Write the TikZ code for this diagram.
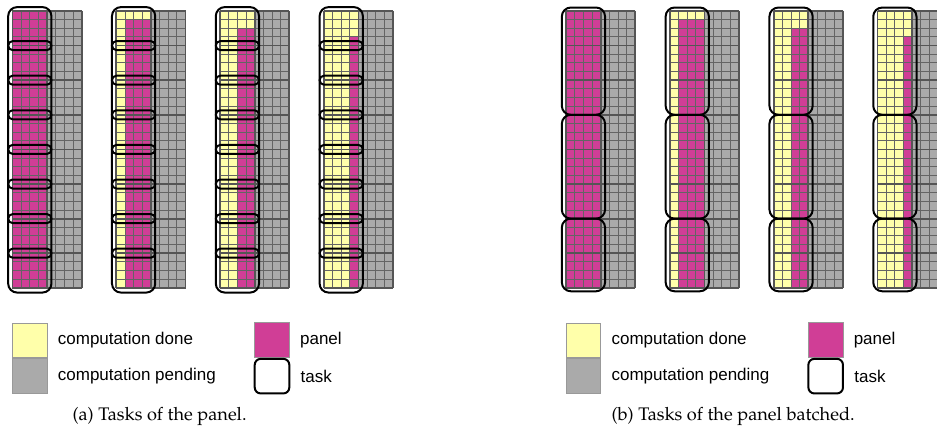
\documentclass[tikz,border=0pt]{standalone}
\usepackage[T1]{fontenc}
\usepackage{fontspec}
\newfontfamily\legendfont{Liberation Sans}
\newcommand{\captionfont}{\fontencoding{T1}\fontfamily{ppl}\selectfont}
\usetikzlibrary{positioning}
\definecolor{doneyellow}{RGB}{255,255,170}
\definecolor{panelmagenta}{RGB}{208,62,150}
\definecolor{pendinggray}{RGB}{170,170,170}
\definecolor{gridgray}{RGB}{100,100,100}
\definecolor{blockgray}{RGB}{85,85,85}
\tikzset{
  donecell/.style={fill=doneyellow},
  panelcell/.style={fill=panelmagenta},
  pendingcell/.style={fill=pendinggray},
  cellline/.style={draw=gridgray,line width=0.45pt},
  blockline/.style={draw=blockgray,line width=0.9pt},
  taskbox/.style={draw=black,line width=1pt,rounded corners=4.5pt},
  taskrow/.style={draw=black,line width=1pt,rounded corners=2.2pt},
  legendbox/.style={minimum size=17.3pt,inner sep=0pt,draw=gray!80,line width=0.4pt},
  legendtext/.style={inner sep=0pt,anchor=west,font=\legendfont\fontsize{8.5}{10}\selectfont},
  subcaption/.style={inner sep=0pt,font=\captionfont\fontsize{9.1}{11}\selectfont}
}
% one column of the matrix: #1 = x offset, #2 = finished columns
\newcommand{\panelColumn}[2]{%
  \fill[pendingcell] (#1+4,0) rectangle ++(4,32);
  \fill[panelcell] (#1,0) rectangle ++(4,32);
  \ifnum#2>0
    \fill[donecell] (#1,0) rectangle ++(#2,32);
    \fill[donecell] (#1,0) rectangle ++(4,#2);
  \fi
  \foreach \r in {0,...,32} \draw[cellline] (#1,\r) -- ++(8,0);
  \foreach \c in {0,...,8} \draw[cellline] (#1+\c,0) -- ++(0,32);
  \foreach \r in {0,4,...,32} \draw[blockline] (#1,\r) -- ++(8,0);
  \foreach \c in {0,4,8} \draw[blockline] (#1+\c,0) -- ++(0,32);
}

\begin{document}
\begin{tikzpicture}[x=4.325pt,y=-4.325pt]
  \useasboundingbox (-1.445,-1.27) rectangle (106.87,49.36);

  % (a) tasks of the panel
  \foreach \k in {0,...,3}{
    \panelColumn{12*\k}{\k}
  }
  \foreach \k in {0,...,3}{
    \draw[taskbox] (12*\k-0.5,-0.45) rectangle (12*\k+4.5,32.55);
    \foreach \b in {1,...,7}{
      \draw[taskrow] (12*\k-0.5,4*\b-0.52) rectangle (12*\k+4.5,4*\b+0.52);
    }
  }

  % (b) tasks of the panel batched
  \foreach \k in {0,...,3}{
    \panelColumn{64+12*\k}{\k}
  }
  \foreach \k in {0,...,3}{
    \draw[taskbox] (64+12*\k-0.5,-0.4) rectangle (64+12*\k+4.5,12);
    \draw[taskbox] (64+12*\k-0.5,12) rectangle (64+12*\k+4.5,24);
    \draw[taskbox] (64+12*\k-0.5,24) rectangle (64+12*\k+4.5,32.4);
  }

  % legend (a)
  \node[legendbox,fill=doneyellow] (doneKeyA) at (2,38.1) {};
  \node[legendbox,fill=pendinggray,below=0pt of doneKeyA] (pendingKeyA) {};
  \node[legendtext,right=5pt of doneKeyA] (doneTextA) {computation done};
  \node[legendtext,right=5pt of pendingKeyA] (pendingTextA) {computation pending};
  \node[legendbox,fill=panelmagenta] (panelKeyA) at (30,38.05) {};
  \node[legendbox,draw=black,line width=1pt,rounded corners=3pt,below=0pt of panelKeyA] (taskKeyA) {};
  \node[legendtext,right=5pt of panelKeyA] (panelTextA) {panel};
  \node[legendtext,right=5pt of taskKeyA] (taskTextA) {task};

  % legend (b)
  \node[legendbox,fill=doneyellow] (doneKeyB) at (66,38.1) {};
  \node[legendbox,fill=pendinggray,below=0pt of doneKeyB] (pendingKeyB) {};
  \node[legendtext,right=5pt of doneKeyB] (doneTextB) {computation done};
  \node[legendtext,right=5pt of pendingKeyB] (pendingTextB) {computation pending};
  \node[legendbox,fill=panelmagenta] (panelKeyB) at (94,38.05) {};
  \node[legendbox,draw=black,line width=1pt,rounded corners=3pt,below=0pt of panelKeyB] (taskKeyB) {};
  \node[legendtext,right=5pt of panelKeyB] (panelTextB) {panel};
  \node[legendtext,right=5pt of taskKeyB] (taskTextB) {task};

  % captions
  \node[subcaption] (captionA) at (17.0,46.9) {(a) Tasks of the panel.};
  \node[subcaption] (captionB) at (83.3,46.9) {(b) Tasks of the panel batched.};
\end{tikzpicture}
\end{document}
